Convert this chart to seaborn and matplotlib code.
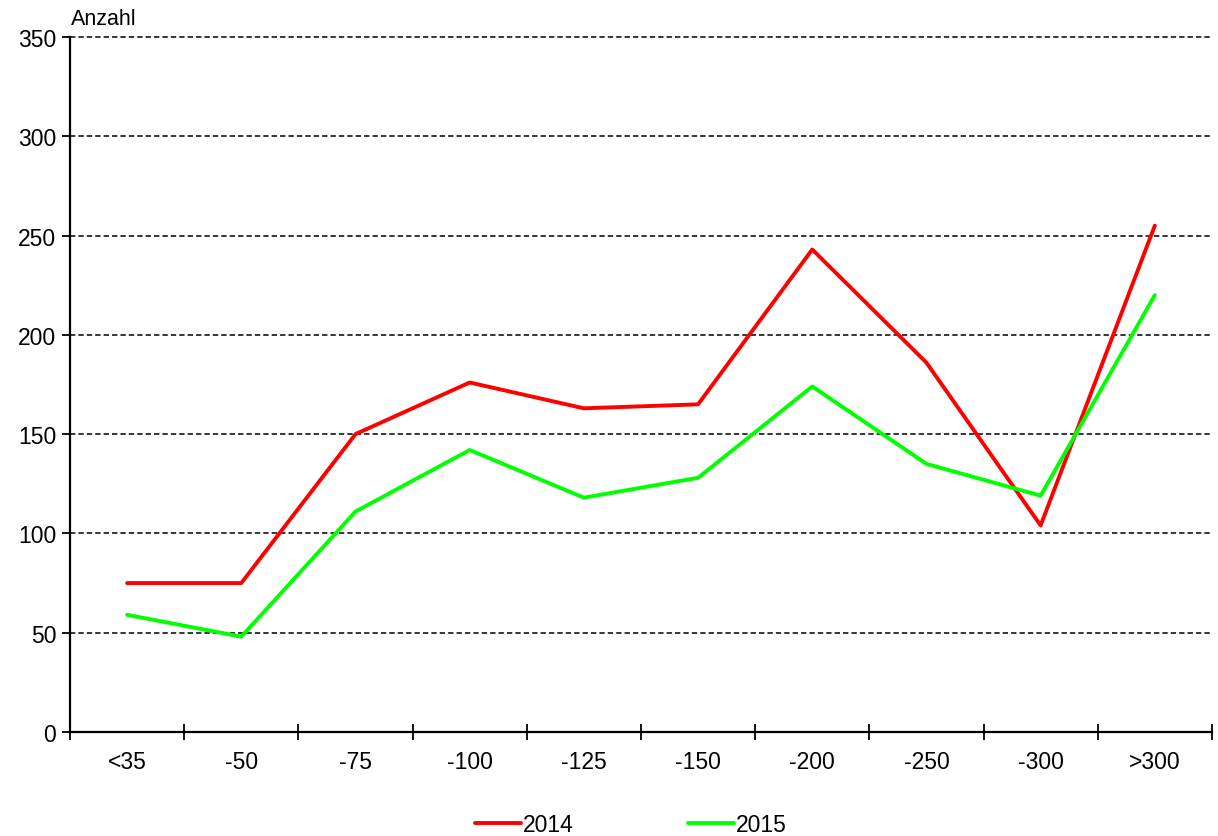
import pandas as pd
import numpy as np
import seaborn as sns
import matplotlib.pyplot as plt
from matplotlib.ticker import FixedLocator, NullFormatter
from matplotlib.lines import Line2D

# Daten
kategorien = ['<35', '-50', '-75', '-100', '-125', '-150', '-200', '-250', '-300', '>300']
werte_2014 = [75, 75, 150, 176, 163, 165, 243, 186, 104, 255]
werte_2015 = [59, 48, 111, 142, 118, 128, 174, 135, 119, 220]

df = pd.DataFrame({
    'pos': list(range(len(kategorien))) * 2,
    'Anzahl': werte_2014 + werte_2015,
    'Jahr': ['2014'] * len(kategorien) + ['2015'] * len(kategorien),
})

sns.set_theme(style="white")
plt.rcParams['font.family'] = ['Liberation Sans', 'DejaVu Sans']
plt.rcParams['text.color'] = 'black'
plt.rcParams['xtick.color'] = 'black'
plt.rcParams['ytick.color'] = 'black'
plt.rcParams['xtick.labelcolor'] = 'black'
plt.rcParams['ytick.labelcolor'] = 'black'

fig = plt.figure(figsize=(12.18, 8.37), dpi=100)
ax = fig.add_axes([0.0575, 0.1243, 0.9375, 0.8303])

sns.lineplot(data=df, x='pos', y='Anzahl', hue='Jahr',
             palette={'2014': '#ff0000', '2015': '#00ff00'},
             linewidth=2.8, ax=ax, legend=False)

ax.set_xlim(-0.5, len(kategorien) - 0.5)
ax.set_ylim(0, 350)
ax.set_yticks(np.arange(0, 351, 50))
for y in np.arange(50, 351, 50):
    ax.axhline(y, color='black', linestyle=(0, (3.5, 2)), linewidth=1.1, zorder=0, clip_on=False)

# Kategoriegrenzen als Ticks, Beschriftung in der Mitte
ax.xaxis.set_major_locator(FixedLocator(np.arange(-0.5, len(kategorien), 1)))
ax.xaxis.set_major_formatter(NullFormatter())
ax.xaxis.set_minor_locator(FixedLocator(np.arange(len(kategorien))))
ax.set_xticklabels(kategorien, minor=True)
ax.tick_params(axis='x', which='major', direction='inout', length=12, width=1.3, bottom=True)
ax.tick_params(axis='x', which='minor', length=0, pad=13, labelsize=16.5)
ax.tick_params(axis='y', direction='out', length=6, width=1.3, labelsize=16.5, pad=4, left=True)

for s in ['top', 'right']:
    ax.spines[s].set_visible(False)
for s in ['left', 'bottom']:
    ax.spines[s].set_color('black')
    ax.spines[s].set_linewidth(1.6)

ax.set_xlabel('')
ax.set_ylabel('')
ax.text(0.001, 1.012, 'Anzahl', transform=ax.transAxes, fontsize=15.5, ha='left', va='bottom')

# Legende unten
handles = [Line2D([], [], color='#ff0000', linewidth=2.8),
           Line2D([], [], color='#00ff00', linewidth=2.8)]
fig.legend(handles, ['2014', '2015'], loc='lower center', bbox_to_anchor=(0.518, -0.025),
           ncol=2, frameon=False, fontsize=16.5, handlelength=2.0, handletextpad=0.1,
           columnspacing=5.0)

fig.savefig('out.png', dpi=100)
